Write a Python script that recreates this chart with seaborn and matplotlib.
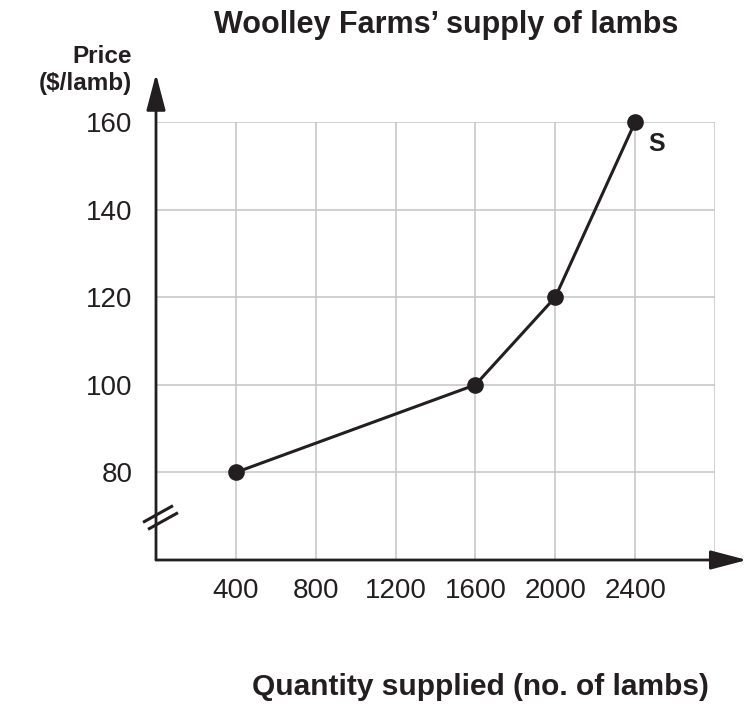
import matplotlib
matplotlib.use("Agg")
import matplotlib.pyplot as plt
import seaborn as sns
import pandas as pd

# --- dados ---
quantity = [400, 1600, 2000, 2400]
price = [80, 100, 120, 160]
x_ticks = [400, 800, 1200, 1600, 2000, 2400]
y_ticks = [80, 100, 120, 140, 160]

title = "Woolley Farms\u2019 supply of lambs"
x_label = "Quantity supplied (no. of lambs)"
y_label = ["Price", "($/lamb)"]
curve_label = "S"

INK = '#231f20'

sns.set_theme(style="whitegrid")
plt.rcParams['font.family'] = ['Liberation Sans', 'DejaVu Sans']

df = pd.DataFrame({'q': quantity, 'p': price})

fig = plt.figure(figsize=(7.46, 7.04), dpi=100)
ax = fig.add_axes([156 / 746, 1 - 560 / 704, 559 / 746, 438 / 704])

sns.lineplot(data=df, x='q', y='p', ax=ax, color=INK, linewidth=2.2,
             marker='o', markersize=12, markeredgewidth=0, zorder=5, clip_on=False)

ax.set_xlim(0, 2800)
ax.set_ylim(60, 160)
ax.set_xticks(x_ticks)
ax.set_yticks(y_ticks)
ax.set_xticks([2800], minor=True)
ax.grid(True, which='both', color='#c4c4c4', linewidth=1.1)
ax.tick_params(axis='both', length=0, labelsize=20, colors=INK)
ax.tick_params(axis='x', pad=13)
ax.tick_params(axis='y', pad=17)
ax.set_xlabel('')
ax.set_ylabel('')

for side in ['top', 'right', 'left', 'bottom']:
    ax.spines[side].set_visible(False)

# eixos com setas
arrow = dict(arrowstyle='-|>,head_length=1.6,head_width=0.42', color=INK,
             lw=2.0, shrinkA=0, shrinkB=0, mutation_scale=14)
ax.annotate('', xy=(0, 171), xytext=(0, 60), xycoords='data',
            arrowprops=arrow, annotation_clip=False)
ax.annotate('', xy=(2960, 60), xytext=(0, 60), xycoords='data',
            arrowprops=arrow, annotation_clip=False)

# marcas de quebra no eixo y
for dx, dy in [(0, 0), (25, -1.6)]:
    ax.plot([-65 + dx, 85 + dx], [68.6 + dy, 72.4 + dy], color=INK,
            lw=2.2, clip_on=False, zorder=6, solid_capstyle='butt')

ax.text(2510, 155, curve_label, fontsize=18, fontweight='bold', color=INK,
        ha='center', va='center')

fig.text(446 / 746, 1 - 33 / 704, title, fontsize=22, fontweight='bold',
         color=INK, ha='center', va='baseline')
for line, base in zip(y_label, [63, 90]):
    fig.text(132 / 746, 1 - base / 704, line, fontsize=17.5, fontweight='bold',
             color=INK, ha='right', va='baseline')
fig.text(480 / 746, 1 - 695 / 704, x_label, fontsize=21.5, fontweight='bold',
         color=INK, ha='center', va='baseline')

fig.savefig('out.png', dpi=100)
